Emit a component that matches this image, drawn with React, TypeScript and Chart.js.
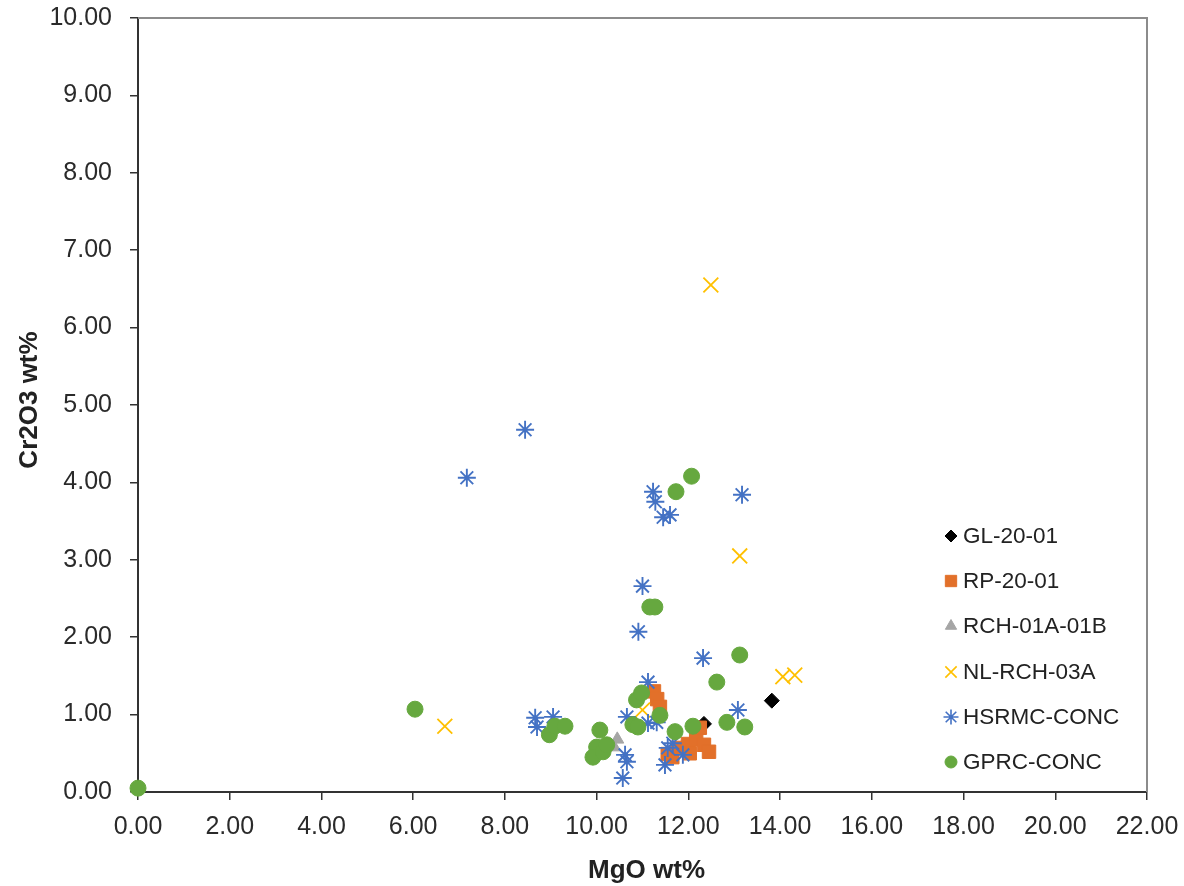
import React, { useEffect, useRef } from 'react';
import { Chart, registerables } from 'chart.js';
import { drawPoint } from 'chart.js/helpers';

Chart.register(...registerables);

const FONT = "'Liberation Sans', Arial, sans-serif";

const X_MIN = 0;
const X_MAX = 22;
const X_STEP = 2;
const Y_MIN = 0;
const Y_MAX = 10;
const Y_STEP = 1;

const X_TITLE = 'MgO wt%';
const Y_TITLE = 'Cr2O3 wt%';

const SERIES_NAMES = ['GL-20-01', 'RP-20-01', 'RCH-01A-01B', 'NL-RCH-03A', 'HSRMC-CONC', 'GPRC-CONC'];

const GL_X = [12.34, 13.82];
const GL_Y = [0.88, 1.18];

const RP_X = [11.25, 11.32, 11.38, 11.55, 11.65, 11.77, 11.99, 12.03, 12.17, 12.25, 12.34, 12.45];
const RP_Y = [1.30, 1.20, 1.10, 0.49, 0.45, 0.57, 0.62, 0.50, 0.68, 0.83, 0.61, 0.52];

const RCH_X = [10.45, 10.38];
const RCH_Y = [0.68, 0.58];

const NL_X = [6.69, 11.0, 12.49, 13.12, 14.06, 14.32];
const NL_Y = [0.85, 1.06, 6.55, 3.05, 1.49, 1.51];

const HS_X = [7.17, 8.44, 11.23, 11.28, 11.45, 11.6, 13.17, 11.0, 10.91, 12.32, 11.12, 13.08, 8.66, 8.7, 9.05, 10.66, 11.12, 11.31, 10.62, 10.66, 10.57, 11.49, 11.55, 11.66, 11.88];
const HS_Y = [4.06, 4.68, 3.88, 3.75, 3.55, 3.58, 3.84, 2.66, 2.07, 1.73, 1.42, 1.06, 0.96, 0.84, 0.97, 0.97, 0.89, 0.90, 0.48, 0.39, 0.18, 0.35, 0.57, 0.63, 0.48];

const GP_X = [0.0, 6.04, 8.97, 9.09, 9.31, 10.07, 10.0, 9.92, 10.14, 10.22, 10.87, 10.98, 10.79, 10.9, 11.38, 11.71, 12.1, 12.62, 13.12, 12.84, 13.23, 11.16, 11.27, 11.73, 12.07];
const GP_Y = [0.05, 1.07, 0.74, 0.85, 0.85, 0.80, 0.58, 0.45, 0.52, 0.61, 1.19, 1.28, 0.87, 0.84, 0.99, 0.78, 0.85, 1.42, 1.77, 0.90, 0.84, 2.39, 2.39, 3.88, 4.08];

const toPoints = (xs: number[], ys: number[]) => xs.map((x, i) => ({ x, y: ys[i] }));

type Style = { color: string; pointStyle: string; radius: number; borderWidth: number; fill: boolean; legendRadius: number };
const STYLES: Style[] = [
  { color: '#000000', pointStyle: 'rectRot', radius: 7.5, borderWidth: 1, fill: true, legendRadius: 6 },
  { color: '#E2702A', pointStyle: 'rect', radius: 9.5, borderWidth: 1, fill: true, legendRadius: 8 },
  { color: '#A5A5A5', pointStyle: 'triangle', radius: 7.5, borderWidth: 1, fill: true, legendRadius: 6.5 },
  { color: '#FFC000', pointStyle: 'crossRot', radius: 10.5, borderWidth: 1.8, fill: false, legendRadius: 8 },
  { color: '#4472C4', pointStyle: 'star', radius: 9, borderWidth: 1.9, fill: false, legendRadius: 7.5 },
  { color: '#66A83F', pointStyle: 'circle', radius: 8, borderWidth: 1, fill: true, legendRadius: 6 },
];

const SERIES_DATA = [
  toPoints(GL_X, GL_Y),
  toPoints(RP_X, RP_Y),
  toPoints(RCH_X, RCH_Y),
  toPoints(NL_X, NL_Y),
  toPoints(HS_X, HS_Y),
  toPoints(GP_X, GP_Y),
];

const decoPlugin = {
  id: 'deco',
  beforeDatasetsDraw(chart: any) {
    const { ctx, chartArea: a } = chart;
    ctx.save();
    ctx.strokeStyle = '#8c8c8c';
    ctx.lineWidth = 2;
    ctx.beginPath();
    ctx.moveTo(a.left, a.top);
    ctx.lineTo(a.right, a.top);
    ctx.lineTo(a.right, a.bottom);
    ctx.stroke();
    ctx.restore();
  },
  afterDraw(chart: any) {
    const { ctx, chartArea: a } = chart;
    ctx.save();
    ctx.fillStyle = '#222';
    ctx.font = `bold 26px ${FONT}`;
    ctx.textAlign = 'center';
    ctx.textBaseline = 'middle';
    ctx.fillText(X_TITLE, (a.left + a.right) / 2 + 4, 871);
    ctx.save();
    ctx.translate(30, 400);
    ctx.rotate(-Math.PI / 2);
    ctx.fillText(Y_TITLE, 0, 0);
    ctx.restore();

    const ys = [536, 581, 626, 672, 717, 762];
    ctx.font = `22.5px ${FONT}`;
    ctx.textAlign = 'left';
    SERIES_NAMES.forEach((name, i) => {
      const s = STYLES[i];
      ctx.fillStyle = s.color;
      ctx.strokeStyle = s.color;
      ctx.lineWidth = s.fill ? 1 : 1.6;
      drawPoint(ctx, { pointStyle: s.pointStyle, radius: s.legendRadius, rotation: 0, borderWidth: ctx.lineWidth } as any, 951, ys[i]);
      ctx.fillStyle = '#222';
      ctx.fillText(name, 963, ys[i] + 1);
    });
    ctx.restore();
  },
};

export default function App() {
  const ref = useRef<HTMLCanvasElement>(null);
  useEffect(() => {
    if (!ref.current) return;
    const datasets = SERIES_NAMES.map((name, i) => {
      const s = STYLES[i];
      return {
        label: name,
        data: SERIES_DATA[i],
        pointStyle: s.pointStyle,
        pointRadius: s.radius,
        pointHoverRadius: s.radius,
        pointBorderWidth: s.borderWidth,
        backgroundColor: s.fill ? s.color : 'rgba(0,0,0,0)',
        borderColor: s.color,
        showLine: false,
        clip: false as any,
        order: 6 - i,
      };
    });
    const chart = new Chart(ref.current, {
      type: 'scatter',
      data: { datasets },
      options: {
        animation: false,
        responsive: false,
        maintainAspectRatio: false,
        layout: { padding: { top: 18, right: 37, left: 0, bottom: 0 } },
        plugins: { legend: { display: false }, tooltip: { enabled: false }, title: { display: false } },
        scales: {
          x: {
            type: 'linear',
            position: 'bottom',
            min: X_MIN,
            max: X_MAX,
            ticks: {
              stepSize: X_STEP,
              autoSkip: false,
              maxRotation: 0,
              padding: 12,
              color: '#2a2a2a',
              font: { family: FONT, size: 25 },
              callback: (v: any) => Number(v).toFixed(2),
            },
            grid: { display: true, drawOnChartArea: false, drawTicks: true, tickLength: 8, color: '#333', lineWidth: 1.5 },
            border: { display: true, color: '#333', width: 2 },
            afterFit: (s: any) => { s.height = 94; s.paddingLeft = 0; s.paddingRight = 0; },
          },
          y: {
            type: 'linear',
            position: 'left',
            min: Y_MIN,
            max: Y_MAX,
            ticks: {
              stepSize: Y_STEP,
              autoSkip: false,
              padding: 18,
              color: '#2a2a2a',
              font: { family: FONT, size: 25 },
              callback: (v: any) => Number(v).toFixed(2),
            },
            grid: { display: true, drawOnChartArea: false, drawTicks: true, tickLength: 8, color: '#333', lineWidth: 1.5 },
            border: { display: true, color: '#333', width: 2 },
            afterFit: (s: any) => { s.width = 138; s.paddingTop = 0; s.paddingBottom = 0; },
          },
        },
      },
      plugins: [decoPlugin],
    } as any);
    return () => chart.destroy();
  }, []);
  return (
    <div style={{ position: 'absolute', left: 0, top: 0, width: 1184, height: 886, background: '#fff' }}>
      <canvas ref={ref} width={1184} height={886} style={{ display: 'block' }} />
    </div>
  );
}
